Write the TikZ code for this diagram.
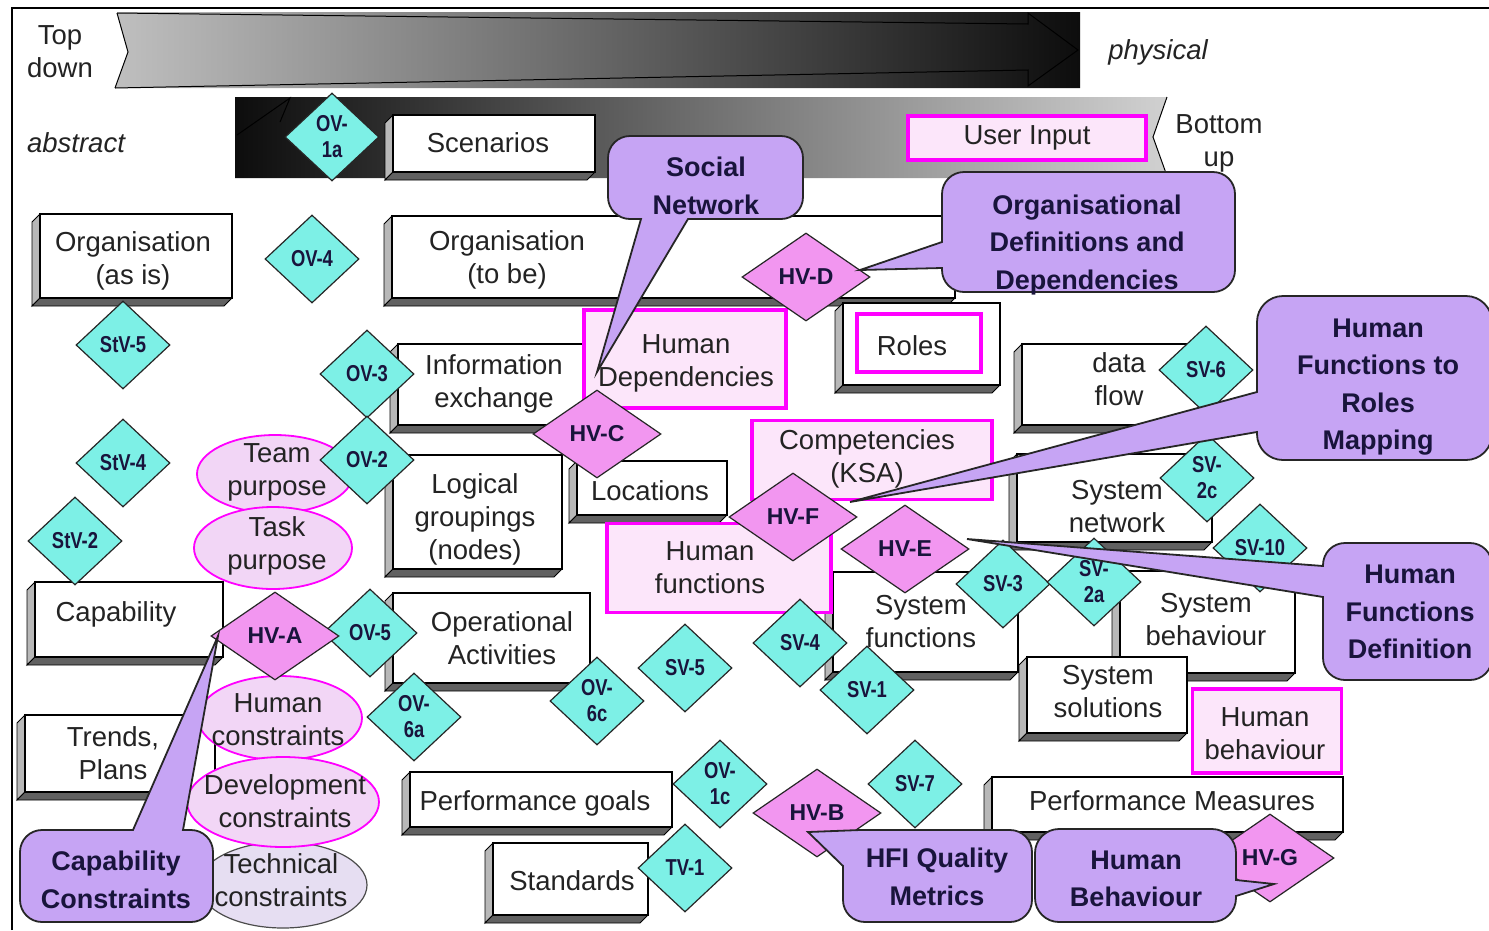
\documentclass[tikz,border=0pt]{standalone}
\usepackage{fontspec}
\setmainfont{Liberation Sans}
\usepackage{graphicx}
\usetikzlibrary{shapes.geometric}
\definecolor{cyanD}{RGB}{125,240,230}
\definecolor{pinkD}{RGB}{242,150,240}
\definecolor{magB}{RGB}{255,0,255}
\definecolor{pinkF}{RGB}{252,230,250}
\definecolor{ellF}{RGB}{242,214,246}
\definecolor{callF}{RGB}{198,164,244}
\definecolor{techF}{RGB}{230,222,242}
\definecolor{txt}{RGB}{35,35,35}
\definecolor{dtxt}{RGB}{25,20,60}
\newcommand\cy[1]{\scalebox{0.8}[1]{#1}}
\newcommand\tdbox[8]{%
  \filldraw[faceL] (#2,#3) -- ({#2-8},{#3+8}) -- ({#2-8},{#5+8}) -- (#2,#5) -- cycle;
  \filldraw[faceB] ({#2-8},{#5+8}) -- ({#4-8},{#5+8}) -- (#4,#5) -- (#2,#5) -- cycle;
  \pgfmathsetmacro\bw{#4-#2}\pgfmathsetmacro\bh{#5-#3}%
  \node[box, minimum width=\bw pt, minimum height=\bh pt] (#1) at ({(#2+#4)/2},{(#3+#5)/2}) {};
  \node[btext] (#1-t) at (#6,#7) {#8};
}
\begin{document}
\begin{tikzpicture}[x=1pt,y=-1pt,
  box/.style={draw=black, line width=1.4pt, fill=white, inner sep=0pt},
  btext/.style={font=\fontsize{27.5}{33}\selectfont, text=txt, align=center, inner sep=0pt},
  faceL/.style={fill=black!28, draw=black, line width=0.9pt},
  faceB/.style={fill=black!62, draw=black, line width=0.9pt},
  mbox/.style={draw=magB, line width=3.5pt, fill=pinkF, inner sep=0pt, font=\fontsize{27.5}{33}\selectfont, text=txt, align=center},
  ell/.style={ellipse, draw=magB, line width=1.8pt, fill=ellF, inner sep=0pt},
  cdia/.style={diamond, draw=black!85, line width=1.2pt, fill=cyanD, minimum width=94pt, minimum height=88pt, inner sep=0pt, font=\fontsize{23}{26}\selectfont\bfseries, text=dtxt, align=center},
  pdia/.style={cdia, fill=pinkD, minimum width=128pt},
  call/.style={fill=callF, draw=black!85, line width=1.8pt},
  ctext/.style={font=\fontsize{27}{37.5}\selectfont\bfseries, text=dtxt, align=center, inner sep=0pt}
]
\useasboundingbox (0,0) rectangle (1489,930);
\fill[white] (0,0) rectangle (1489,930);
% frame
\draw[line width=1.2pt] (12,930) -- (12,8) -- (1489,8);

% banner 1 (top down)
\shade[left color=black!25, right color=black!95] (117,12) -- (1080,12) -- (1080,88) -- (115,88) -- (128,52) -- cycle;
\draw[line width=1pt] (117,13) -- (128,52) -- (115,88);
\draw[line width=1pt] (117,13) -- (1028,24) -- (1028,13) -- (1078,50) -- (1028,86) -- (1028,70) -- (115,88);
% banner 2 (bottom up)
\shade[left color=black!95, right color=black!18] (235,97) -- (1167,97) -- (1153,137) -- (1167,178) -- (235,178) -- cycle;
\draw[line width=1pt] (1167,97) -- (1153,137) -- (1167,176);
\draw[line width=1pt] (280,122) -- (290,98) -- (237,135);

\node[btext] (topdown) at (60,52) {Top\\down};
\node[btext, font=\fontsize{27.5}{33}\selectfont\itshape] (physical) at (1158,52) {physical};
\node[btext, font=\fontsize{27.5}{33}\selectfont\itshape] (abstract) at (76,143) {abstract};
\node[btext] (bottomup) at (1219,143) {Bottom\\up};

% 3D boxes
\tdbox{scen}{393}{115}{595}{172}{488}{143}{Scenarios}
\tdbox{orgasis}{40}{214}{232}{298}{133}{261}{Organisation\\(as is)}
\tdbox{orgtobe}{392}{216}{955}{298}{507}{260}{Organisation\\(to be)}
\tdbox{infoex}{398}{344}{600}{425}{494}{384}{Information\\exchange}
\tdbox{logical}{393}{455}{562}{569}{475}{519}{Logical\\groupings\\(nodes)}
\tdbox{opact}{393}{593}{590}{683}{502}{638}{Operational\\Activities}
\tdbox{locations}{577}{461}{727}{515}{650}{491}{Locations}
\tdbox{rolesbox}{843}{303}{1000}{385}{921}{344}{}
\tdbox{dataflow}{1022}{344}{1215}{425}{1119}{379}{data\\flow}
\tdbox{sysnet}{1017}{454}{1212}{542}{1117}{507}{System\\network}
\tdbox{sysfun}{833}{572}{1018}{672}{921}{622}{System\\functions}
\tdbox{sysbeh}{1120}{571}{1295}{673}{1206}{620}{System\\behaviour}
\tdbox{syssol}{1027}{657}{1187}{733}{1108}{692}{System\\solutions}
\tdbox{perfmeas}{992}{777}{1343}{832}{1172}{801}{Performance Measures}
\tdbox{perfgoals}{410}{772}{672}{827}{535}{803}{Performance goals}
\tdbox{standards}{493}{843}{648}{915}{572}{881}{Standards}
\tdbox{capability}{35}{582}{223}{657}{116}{614}{Capability}
\tdbox{trends}{25}{715}{215}{792}{113}{753}{Trends,\\Plans}

% magenta boxes
\node[mbox, minimum width=238pt, minimum height=44pt] (userinput) at (1027,138) {User Input};
\node[mbox, minimum width=202pt, minimum height=98pt] (humdep) at (685,359) {};
\node[btext] (humdep-t) at (686,363) {Human\\Dependencies};
\node[mbox, minimum width=240pt, minimum height=79pt] (comp) at (872,460) {};
\node[btext] (comp-t) at (867,459) {Competencies\\(KSA)};
\node[mbox, minimum width=224pt, minimum height=89pt] (humfun) at (719,568) {};
\node[btext] (humfun-t) at (710,568) {Human\\functions};
\node[mbox, minimum width=149pt, minimum height=84pt] (humbeh) at (1267,731) {};
\node[btext] (humbeh-t) at (1265,734) {Human\\behaviour};
\node[mbox, fill=white, minimum width=124pt, minimum height=58pt] (roles) at (919,343) {};
\node[btext] (roles-t) at (912,346) {Roles};

% ellipses
\node[ellipse, draw=black!70, line width=1.2pt, fill=techF, minimum width=168pt, minimum height=86pt] (techc) at (283,885) {};
\node[btext] (techc-t) at (281,880) {Technical\\constraints};
\node[ell, minimum width=164pt, minimum height=84pt] (humc) at (280,718) {};
\node[btext] (humc-t) at (278,720) {Human\\constraints};
\node[ell, minimum width=192pt, minimum height=90pt] (devc) at (283,802) {};
\node[btext] (devc-t) at (285,801) {Development\\constraints};
\node[ell, minimum width=156pt, minimum height=78pt] (team) at (275,474) {};
\node[btext] (team-t) at (277,472) {Team\\purpose};
\node[ell, minimum width=158pt, minimum height=82pt] (task) at (273,548) {};
\node[btext] (task-t) at (277,546) {Task\\purpose};

% cyan diamonds
\node[cdia] (ov1a) at (332,137) {\cy{OV-}\\\cy{1a}};
\node[cdia] (ov4) at (312,259) {\cy{OV-4}};
\node[cdia] (stv5) at (123,345) {\cy{StV-5}};
\node[cdia] (ov3) at (367,374) {\cy{OV-3}};
\node[cdia] (stv4) at (123,463) {\cy{StV-4}};
\node[cdia] (ov2) at (367,460) {\cy{OV-2}};
\node[cdia] (stv2) at (75,541) {\cy{StV-2}};
\node[cdia] (ov5) at (370,633) {\cy{OV-5}};
\node[cdia] (ov6a) at (414,717) {\cy{OV-}\\\cy{6a}};
\node[cdia] (ov6c) at (597,701) {\cy{OV-}\\\cy{6c}};
\node[cdia] (sv5) at (685,668) {\cy{SV-5}};
\node[cdia] (sv4) at (800,643) {\cy{SV-4}};
\node[cdia] (sv1) at (867,690) {\cy{SV-1}};
\node[cdia] (sv3) at (1003,584) {\cy{SV-3}};
\node[cdia] (sv2a) at (1094,582) {\cy{SV-}\\\cy{2a}};
\node[cdia] (sv6) at (1206,370) {\cy{SV-6}};
\node[cdia] (sv2c) at (1207,478) {\cy{SV-}\\\cy{2c}};
\node[cdia] (sv10) at (1260,548) {\cy{SV-10}};
\node[cdia] (ov1c) at (720,784) {\cy{OV-}\\\cy{1c}};
\node[cdia] (tv1) at (685,868) {\cy{TV-1}};
\node[cdia] (sv7) at (915,784) {\cy{SV-7}};

% pink diamonds
\node[pdia] (hvd) at (806,277) {HV-D};
\node[pdia] (hvc) at (597,434) {HV-C};
\node[pdia] (hvf) at (793,517) {HV-F};
\node[pdia] (hve) at (905,549) {HV-E};
\node[pdia] (hva) at (275,636) {HV-A};
\node[pdia] (hvb) at (817,813) {HV-B};
\node[pdia] (hvg) at (1270,858) {HV-G};

% callouts
\filldraw[call] (630,136) -- (781,136) arc[start angle=270,end angle=360,radius=22] -- (803,197) arc[start angle=0,end angle=90,radius=22] -- (688,219) -- (597,372) -- (641,219) -- (630,219) arc[start angle=90,end angle=180,radius=22] -- (608,158) arc[start angle=180,end angle=270,radius=22] -- cycle;
\node[ctext] (socialnet) at (706,186) {Social\\Network};

\filldraw[call] (964,172) -- (1213,172) arc[start angle=270,end angle=360,radius=22] -- (1235,270) arc[start angle=0,end angle=90,radius=22] -- (964,292) arc[start angle=90,end angle=180,radius=22] -- (942,268) -- (860,270) -- (942,242) -- (942,194) arc[start angle=180,end angle=270,radius=22] -- cycle;
\node[ctext] (orgdefs) at (1087,245) {Organisational\\Definitions and\\Dependencies};

\filldraw[call] (1283,296) -- (1466,296) arc[start angle=270,end angle=360,radius=26] -- (1492,434) arc[start angle=0,end angle=90,radius=26] -- (1283,460) arc[start angle=90,end angle=180,radius=26] -- (1257,432) -- (850,502) -- (1257,392) -- (1257,322) arc[start angle=180,end angle=270,radius=26] -- cycle;
\node[ctext] (hfroles) at (1378,387) {Human\\Functions to\\Roles\\Mapping};

\filldraw[call] (1345,543) -- (1470,543) arc[start angle=270,end angle=360,radius=22] -- (1492,658) arc[start angle=0,end angle=90,radius=22] -- (1345,680) arc[start angle=90,end angle=180,radius=22] -- (1323,597) -- (967,539) -- (1323,566) -- (1323,565) arc[start angle=180,end angle=270,radius=22] -- cycle;
\node[ctext] (hfdef) at (1410,612) {Human\\Functions\\Definition};

\filldraw[call] (42,830) -- (133,830) -- (218,636) -- (183,830) -- (191,830) arc[start angle=270,end angle=360,radius=22] -- (213,900) arc[start angle=0,end angle=90,radius=22] -- (42,922) arc[start angle=90,end angle=180,radius=22] -- (20,852) arc[start angle=180,end angle=270,radius=22] -- cycle;
\node[ctext] (capcons) at (116,880) {Capability\\Constraints};

\filldraw[call] (860,830) -- (1010,830) arc[start angle=270,end angle=360,radius=22] -- (1032,900) arc[start angle=0,end angle=90,radius=22] -- (865,922) arc[start angle=90,end angle=180,radius=22] -- (843,866) -- (808,832) -- cycle;
\node[ctext] (hfiq) at (937,877) {HFI Quality\\Metrics};

\filldraw[call] (1059,829) -- (1212,829) arc[start angle=270,end angle=360,radius=24] -- (1236,880) -- (1274,884) -- (1236,896) -- (1236,898) arc[start angle=0,end angle=90,radius=24] -- (1059,922) arc[start angle=90,end angle=180,radius=24] -- (1035,853) arc[start angle=180,end angle=270,radius=24] -- cycle;
\node[ctext] (humbehc) at (1136,879) {Human\\Behaviour};
\end{tikzpicture}
\end{document}
